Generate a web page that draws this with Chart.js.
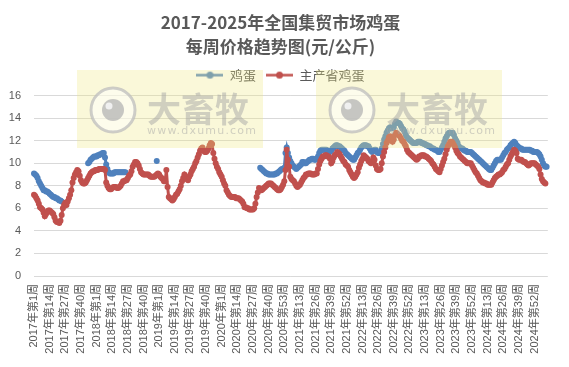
<!DOCTYPE html>
<html>
<head>
<meta charset="utf-8">
<title>鸡蛋每周价格</title>
<script src="https://cdn.jsdelivr.net/npm/chart.js@4.4.1/dist/chart.umd.min.js"></script>
<style>
    html, body { margin: 0; padding: 0; background: #fff; }
    #wrap { width: 569px; height: 367px; }
</style>
</head>
<body>
<div id="wrap"><canvas id="eggChart" width="569" height="367"></canvas></div>
<script>
// ── Data ───────────────────────────────────────
const yearList = [2017, 2018, 2019, 2020, 2021, 2022, 2023, 2024, 2025];
const weeksInYear = [52, 52, 52, 53, 52, 52, 52, 52, 11];
const yTicks = [0, 2, 4, 6, 8, 10, 12, 14, 16];
const seriesNames = ['鸡蛋', '主产省鸡蛋'];
const seriesColors = ['#4f81bd', '#c0504d'];

// 鸡蛋 (national) – weekly, gaps where no data
const eggNational = [
    9.1, 9.0, 8.9, 8.7, 8.4, 8.2, 8.0, 7.8, 7.6, 7.6,          // 0
    7.5, 7.5, 7.4, 7.3, 7.2, 7.1, 7.0, 7.0, 6.9, 6.9,          // 10
    6.8, 6.7, 6.7, 6.6, null, null, null, null, null, null,    // 20
    null, null, null, null, null, null, null, null, null, null,
    null, null, null, null, null, 10.0, 10.1, 10.3, 10.4, 10.5, // 40
    10.6, 10.6, 10.6, 10.7, 10.7, 10.8, 10.8, 10.9, 10.9, 10.5,
    9.9, 9.5, 9.2, 9.1, 9.1, 9.1, 9.1, 9.2, 9.2, 9.2,          // 60
    9.2, 9.2, 9.2, 9.2, 9.2, 9.2, 9.2, null, null, null,
    null, null, null, null, null, null, null, null, null, null, // 80
    null, null, null, null, null, null, null, null, null, null,
    null, null, 10.2, null, null, null, null, null, null, null, // 100
    null, null, null, null, null, null, null, null, null, null,
    null, null, null, null, null, null, null, null, null, null, // 120
    null, null, null, null, null, null, null, null, null, null,
    null, null, null, null, null, null, null, null, null, null, // 140
    null, null, null, null, null, null, null, null, null, null,
    null, null, null, null, null, null, null, null, null, null, // 160
    null, null, null, null, null, null, null, null, null, null,
    null, null, null, null, null, null, null, null, 9.6, 9.5,  // 180
    9.4, 9.3, 9.2, 9.1, 9.1, 9.0, 9.0, 9.0, 9.0, 9.0,
    9.0, 9.1, 9.1, 9.2, 9.3, 9.4, 9.5, 9.5, 9.6, 10.9,         // 200
    11.4, 10.9, 10.5, 10.2, 10.0, 9.8, 9.7, 9.6, 9.5, 9.6,
    9.7, 9.8, 9.9, 10.1, 10.1, 10.0, 10.0, 10.1, 10.2, 10.3,   // 220
    10.3, 10.4, 10.4, 10.3, 10.3, 10.4, 10.6, 10.9, 11.1, 11.2,
    11.2, 11.2, 11.2, 11.2, 11.1, 11.0, 11.0, 11.1, 11.3, 11.4, // 240
    11.5, 11.6, 11.6, 11.5, 11.5, 11.4, 11.3, 11.2, 11.1, 10.9,
    10.8, 10.7, 10.6, 10.5, 10.4, 10.3, 10.3, 10.5, 10.7, 10.9, // 260
    11.0, 11.2, 11.4, 11.5, 11.6, 11.6, 11.6, 11.5, 11.5, 11.3,
    11.1, 11.0, 11.1, 11.2, 11.2, 11.0, 10.9, 10.9, 11.0, 11.3, // 280
    11.7, 12.1, 12.4, 12.7, 12.9, 13.1, 13.2, 13.1, 13.1, 13.2,
    13.5, 13.7, 13.6, 13.6, 13.5, 13.3, 13.1, 13.0, 12.8, 12.5, // 300
    12.3, 12.2, 12.1, 12.0, 11.9, 11.8, 11.8, 11.8, 11.8, 11.9,
    11.9, 11.9, 11.8, 11.8, 11.7, 11.7, 11.6, 11.6, 11.5, 11.5, // 320
    11.4, 11.3, 11.3, 11.2, 11.2, 11.1, 11.0, 11.0, 11.2, 11.4,
    11.6, 11.9, 12.2, 12.4, 12.6, 12.7, 12.7, 12.7, 12.7, 12.5, // 340
    12.2, 12.0, 11.8, 11.5, 11.4, 11.3, 11.3, 11.2, 11.1, 11.1,
    11.0, 11.0, 11.0, 11.0, 10.9, 10.8, 10.7, 10.6, 10.5, 10.4, // 360
    10.3, 10.2, 10.1, 10.0, 9.9, 9.8, 9.7, 9.6, 9.5, 9.4,
    9.4, 9.6, 9.8, 10.0, 10.2, 10.3, 10.3, 10.3, 10.3, 10.5,   // 380
    10.7, 10.9, 11.0, 11.2, 11.3, 11.4, 11.6, 11.7, 11.8, 11.9,
    11.8, 11.6, 11.5, 11.4, 11.3, 11.3, 11.2, 11.2, 11.2, 11.2, // 400
    11.2, 11.2, 11.2, 11.1, 11.1, 11.0, 11.0, 11.0, 11.0, 10.9,
    10.8, 10.6, 10.3, 10.0, 9.8, 9.7, 9.7                        // 420
];

// 主产省鸡蛋 (main producing provinces) – weekly
const eggMainProv = [
    7.2, 7.1, 6.9, 6.7, 6.4, 6.1, 6.0, 5.9, 5.6, 5.3,          // 0
    5.5, 5.7, 5.8, 5.8, 5.7, 5.6, 5.5, 5.2, 4.9, 4.8,
    4.8, 4.7, 4.9, 5.4, 6.0, 6.3, 6.5, 6.3, 6.6, 6.9,          // 20
    7.2, 7.6, 8.3, 8.7, 9.0, 9.2, 9.4, 9.3, 8.9, 8.5,
    8.3, 8.2, 8.2, 8.3, 8.5, 8.7, 8.9, 9.1, 9.2, 9.3,          // 40
    9.3, 9.4, 9.4, 9.4, 9.5, 9.5, 9.5, 9.5, 9.5, 9.4,
    8.3, 8.0, 7.8, 7.7, 7.7, 7.8, 7.9, 7.9, 7.9, 7.8,          // 60
    7.8, 7.9, 8.0, 8.2, 8.4, 8.4, 8.5, 8.5, 8.7, 8.9,
    9.0, 9.3, 9.7, 9.9, 10.1, 10.1, 10.0, 9.8, 9.5, 9.2,       // 80
    9.1, 9.0, 9.0, 9.0, 9.0, 9.0, 8.9, 8.8, 8.8, 8.8,
    8.8, 8.9, 9.0, 9.1, 9.0, 8.8, 8.7, 8.6, 8.4, 8.4,          // 100
    9.4, 7.9, 7.0, 6.9, 6.8, 6.7, 6.8, 7.0, 7.2, 7.3,
    7.5, 7.7, 8.0, 8.4, 8.7, 9.0, 8.8, 8.6, 8.5, 8.8,          // 120
    9.0, 9.3, 9.5, 9.7, 10.0, 10.2, 10.5, 10.8, 11.1, 11.3,
    11.4, 11.1, 11.0, 11.0, 11.1, 11.3, 11.6, 11.8, 11.7, 10.9, // 140
    10.4, 10.0, 9.7, 9.5, 9.2, 9.0, 8.8, 8.5, 8.2, 8.0,
    7.6, 7.4, 7.2, 7.1, 7.0, 7.0, 7.0, 7.0, 6.9, 6.9,          // 160
    6.9, 6.8, 6.7, 6.6, 6.4, 6.1, 6.1, 6.0, 6.0, 5.9,
    5.9, 5.9, 5.9, 6.0, 6.4, 7.0, 7.4, 7.8, 7.7, 7.6,          // 180
    7.7, 7.8, 7.9, 8.0, 8.1, 8.2, 8.2, 8.2, 8.1, 8.0,
    7.9, 7.8, 7.7, 7.6, 7.6, 7.7, 7.9, 8.1, 8.4, 9.4,          // 200
    11.2, 10.3, 9.7, 8.8, 8.6, 8.5, 8.4, 8.2, 8.0, 7.9,
    8.0, 8.1, 8.3, 8.5, 8.7, 8.8, 9.0, 9.0, 9.1, 9.1,          // 220
    9.1, 9.0, 9.0, 9.0, 9.1, 9.1, 9.5, 9.9, 10.2, 10.4,
    10.6, 10.6, 10.7, 10.7, 10.6, 10.6, 10.4, 10.0, 10.2, 10.5, // 240
    10.7, 10.8, 11.0, 10.9, 10.8, 10.6, 10.4, 10.2, 10.1, 9.9,
    9.8, 9.7, 9.4, 9.2, 9.0, 8.8, 8.7, 8.8, 9.0, 9.2,          // 260
    9.6, 9.9, 10.2, 10.4, 10.7, 10.6, 10.5, 10.4, 10.2, 10.1,
    10.0, 10.2, 10.5, 10.3, 9.8, 9.5, 9.4, 9.4, 9.5, 10.0,     // 280
    10.6, 11.0, 11.4, 11.8, 12.0, 12.3, 12.4, 12.2, 11.9, 12.1,
    12.5, 12.7, 12.6, 12.5, 12.4, 12.2, 12.0, 11.9, 11.7, 11.5, // 300
    11.2, 11.0, 10.9, 10.8, 10.7, 10.6, 10.5, 10.4, 10.3, 10.4,
    10.6, 10.6, 10.7, 10.7, 10.7, 10.6, 10.6, 10.5, 10.4, 10.3, // 320
    10.2, 10.0, 9.9, 9.7, 9.5, 9.4, 9.3, 9.2, 9.5, 9.8,
    10.1, 10.4, 10.8, 11.2, 11.5, 11.7, 11.9, 11.9, 11.8, 11.6, // 340
    11.4, 11.1, 10.9, 10.8, 10.6, 10.5, 10.4, 10.3, 10.2, 10.1,
    10.0, 10.0, 10.0, 10.0, 9.8, 9.6, 9.4, 9.2, 9.1, 8.9,      // 360
    8.7, 8.5, 8.4, 8.3, 8.3, 8.2, 8.2, 8.1, 8.1, 8.1,
    8.1, 8.3, 8.5, 8.7, 8.8, 8.9, 9.0, 9.0, 9.1, 9.2,          // 380
    9.4, 9.5, 9.7, 9.9, 10.0, 10.3, 10.6, 10.8, 11.0, 11.2,
    11.1, 10.9, 10.4, 10.3, 10.3, 10.3, 10.2, 10.1, 10.1, 10.0, // 400
    9.9, 9.8, 9.9, 10.0, 10.0, 10.0, 10.0, 9.9, 9.8, 9.7,
    9.5, 9.0, 8.6, 8.4, 8.3, 8.2                                 // 420
];

// ── Week labels ────────────────────────────────
const weekLabels = [];
yearList.forEach((yr, i) => {
    for (let w = 1; w <= weeksInYear[i]; w++) weekLabels.push(yr + '年第' + w + '周');
});

const TXT = '#595959';
const FONT = '"Liberation Sans", "Noto Sans CJK SC", sans-serif';

// ── Legend icon: short line with a dot ─────────
function legendIcon(color) {
    const c = document.createElement('canvas');
    c.width = 27; c.height = 9;
    const g = c.getContext('2d');
    g.strokeStyle = color; g.lineWidth = 2.5;
    g.beginPath(); g.moveTo(0, 4.5); g.lineTo(27, 4.5); g.stroke();
    g.fillStyle = color;
    g.beginPath(); g.arc(13.5, 4.5, 3.5, 0, Math.PI * 2); g.fill();
    return c;
}

// ── Watermark boxes (drawn over the lines) ─────
function drawMark(ctx, x, y) {
    ctx.save();
    ctx.fillStyle = 'rgba(240, 232, 130, 0.3)';
    ctx.fillRect(x, y, 186, 78);
    const cx = x + 36, cy = y + 40;
    ctx.beginPath(); ctx.arc(cx, cy, 22, 0, Math.PI * 2);
    ctx.fillStyle = 'rgba(255,255,255,0.5)'; ctx.fill();
    ctx.lineWidth = 3; ctx.strokeStyle = 'rgba(190,190,190,0.75)'; ctx.stroke();
    ctx.beginPath(); ctx.arc(cx, cy, 11, 0, Math.PI * 2);
    ctx.fillStyle = 'rgba(180,180,180,0.75)'; ctx.fill();
    ctx.beginPath(); ctx.arc(cx - 4, cy - 4, 3.5, 0, Math.PI * 2);
    ctx.fillStyle = 'rgba(245,245,245,0.9)'; ctx.fill();
    ctx.fillStyle = 'rgba(165,165,165,0.5)';
    ctx.textBaseline = 'middle';
    ctx.font = 'bold 34px "Noto Sans CJK SC"';
    ctx.fillText('大畜牧', x + 70, y + 39);
    ctx.font = '11px "DejaVu Sans"';
    ctx.letterSpacing = '1.2px';
    ctx.fillText('www.dxumu.com', x + 70, y + 61);
    ctx.restore();
}

const watermark = {
    id: 'watermark',
    afterDatasetsDraw(chart) {
        drawMark(chart.ctx, 77, 70);
        drawMark(chart.ctx, 316, 70);
    }
};

// push the plot down below the legend
const legendGap = {
    id: 'legendGap',
    beforeInit(chart) {
        const fit = chart.legend.fit;
        chart.legend.fit = function () {
            fit.bind(chart.legend)();
            this.height += 4;
        };
    }
};

// ── Chart ──────────────────────────────────────
new Chart(document.getElementById('eggChart'), {
    type: 'line',
    data: {
        labels: weekLabels,
        datasets: [{
            label: seriesNames[0],
            data: eggNational,
            borderColor: seriesColors[0],
            backgroundColor: seriesColors[0],
            borderWidth: 3,
            pointRadius: 3,
            pointBorderWidth: 0,
            pointHoverRadius: 0,
            spanGaps: false,
            order: 1
        }, {
            label: seriesNames[1],
            data: eggMainProv,
            borderColor: seriesColors[1],
            backgroundColor: seriesColors[1],
            borderWidth: 3,
            pointRadius: 3,
            pointBorderWidth: 0,
            pointHoverRadius: 0,
            order: 0
        }]
    },
    options: {
        responsive: false,
        animation: false,
        devicePixelRatio: 1,
        layout: { padding: { left: 4, right: 12, top: 0, bottom: 0 } },
        plugins: {
            title: {
                display: true,
                text: ['2017-2025年全国集贸市场鸡蛋', '每周价格趋势图(元/公斤)'],
                color: TXT,
                font: { family: '"Noto Sans CJK SC", sans-serif', size: 17, weight: 'bold', lineHeight: 1.4 },
                padding: { top: 11, bottom: 0 }
            },
            legend: {
                position: 'top',
                labels: {
                    color: TXT,
                    font: { family: '"Noto Sans CJK SC", sans-serif', size: 13 },
                    usePointStyle: true,
                    pointStyleWidth: 27,
                    padding: 10,
                    sort: (a, b) => a.datasetIndex - b.datasetIndex,
                    generateLabels(chart) {
                        const items = Chart.defaults.plugins.legend.labels.generateLabels(chart);
                        items.forEach(it => { it.pointStyle = legendIcon(seriesColors[it.datasetIndex]); });
                        return items;
                    }
                }
            },
            tooltip: { enabled: false }
        },
        scales: {
            x: {
                grid: { display: false, drawTicks: false },
                border: { display: false },
                ticks: {
                    autoSkip: false,
                    minRotation: 90,
                    maxRotation: 90,
                    padding: 8,
                    color: TXT,
                    font: { family: FONT, size: 11 },
                    callback(val, i) { return i % 13 === 0 ? this.getLabelForValue(val) : ''; }
                },
                afterFit(s) { s.height = 91; }
            },
            y: {
                min: yTicks[0],
                max: yTicks[yTicks.length - 1],
                grid: { color: '#d9d9d9', drawTicks: false },
                border: { display: false },
                ticks: {
                    stepSize: 2,
                    padding: 13,
                    color: TXT,
                    font: { family: FONT, size: 11 }
                },
                afterFit(s) { s.width = 30; }
            }
        }
    },
    plugins: [watermark, legendGap]
});
</script>
</body>
</html>
